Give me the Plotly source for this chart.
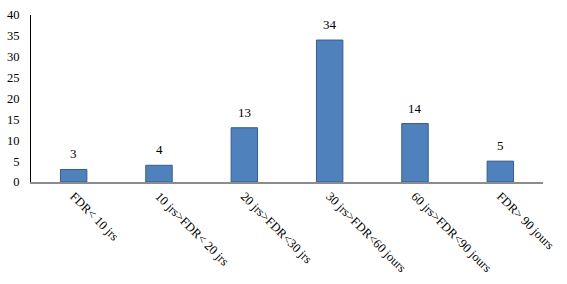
import plotly.graph_objects as go

categories = ["FDR< 10 jrs", "10 jrs>FDR< 20 jrs", "20 jrs>FDR<30 jrs",
              "30 jrs>FDR<60 jours", "60 jrs>FDR<90 jours", "FDR> 90 jours"]
values = [3, 4, 13, 34, 14, 5]
y_ticks = [0, 5, 10, 15, 20, 25, 30, 35, 40]

font_family = "Liberation Serif, DejaVu Serif, serif"

fig = go.Figure(go.Bar(
    x=categories, y=values, width=0.31,
    marker=dict(color="#4F81BD", line=dict(color="#385D8A", width=1)),
    cliponaxis=False,
))

for c, v in zip(categories, values):
    fig.add_annotation(x=c, y=v, text=str(v), showarrow=False,
                       yanchor="bottom", yshift=6,
                       font=dict(family=font_family, size=13, color="black"))

fig.update_layout(
    width=567, height=284,
    margin=dict(l=31, r=24, t=15, b=102),
    paper_bgcolor="white", plot_bgcolor="white",
    showlegend=False,
    font=dict(family=font_family, size=12, color="black"),
    bargap=0.69,
)
fig.update_xaxes(
    showline=True, linecolor="#8C8C8C", linewidth=2,
    tickangle=45, ticks="", showgrid=False, automargin=False,
    tickfont=dict(family=font_family, size=12.5, color="black"),
)
fig.update_yaxes(
    range=[0, 40], tickvals=y_ticks, showline=True, linecolor="black",
    linewidth=1, showgrid=False, ticks="", zeroline=False,
    ticklabelstandoff=8, automargin=False,
    tickfont=dict(family=font_family, size=12.5, color="black"),
)

fig.write_html("out.html")
